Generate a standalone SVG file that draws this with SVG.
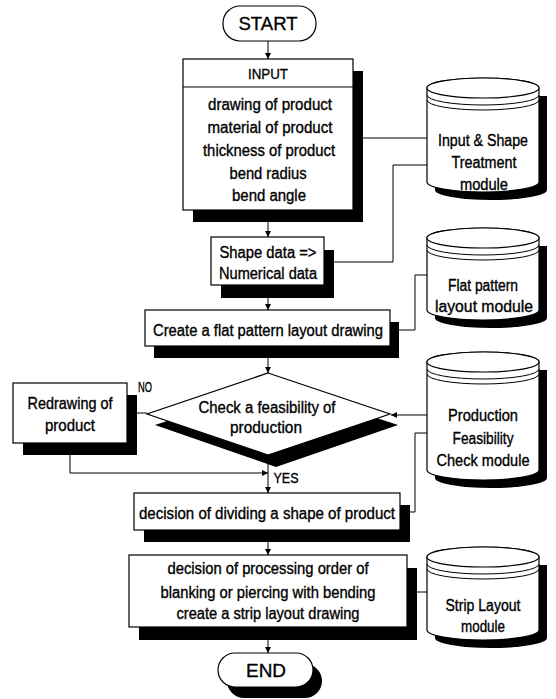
<svg xmlns="http://www.w3.org/2000/svg" width="556" height="699" viewBox="0 0 556 699">
<defs>
<marker id="ah" viewBox="0 0 10 10" refX="10" refY="5" markerWidth="7" markerHeight="6" orient="auto" markerUnits="userSpaceOnUse">
<path d="M0,0 L10,5 L0,10 Z" fill="#000"/>
</marker>
</defs>
<style>
.box{fill:#fff;stroke:#000;stroke-width:1.2}
.sh{fill:#000;stroke:none}
.ln{fill:none;stroke:#000;stroke-width:1}
.ar{fill:none;stroke:#000;stroke-width:1;marker-end:url(#ah)}
text{font-family:"Liberation Sans Narrow","Arial Narrow","Liberation Sans",Arial,sans-serif;font-size:16px;fill:#000;stroke:#000;stroke-width:0.35;text-anchor:middle}
.big{font-size:19px}
.sm{font-size:15px}
</style>
<rect width="556" height="699" fill="#fff"/>

<g id="connectors">
<path class="ar" d="M268,41 V59"/>
<path class="ar" d="M268,222 V237"/>
<path class="ar" d="M268,298 V310"/>
<path class="ar" d="M268,358 V373"/>
<path class="ar" d="M268,455 V493"/>
<path class="ar" d="M70,455 V473 H268"/>
<path class="ln" d="M147,413 H137"/>
<path class="ar" d="M268,542 V555"/>
<path class="ar" d="M268,640 V653"/>
<path class="ln" d="M363,138 H427"/>
<path class="ln" d="M334,262 H393 V165 H427"/>
<path class="ln" d="M399,330 H415 V275 H427"/>
<path class="ar" d="M427,415 H391"/>
<path class="ln" d="M410,512 H415 V433 H427"/>
<path class="ln" d="M417,592 H427"/>
</g>

<g id="start">
<rect class="box" x="223" y="6" width="93" height="35" rx="17"/>
<text class="big" x="268" y="30" textLength="59" lengthAdjust="spacingAndGlyphs">START</text>
</g>

<g id="input">
<rect class="sh" x="193" y="71" width="170" height="151"/>
<rect class="box" x="183" y="59" width="170" height="151"/>
<line class="ln" x1="183" y1="87" x2="353" y2="87"/>
<text class="sm" x="268" y="79" textLength="40" lengthAdjust="spacingAndGlyphs">INPUT</text>
<text x="270" y="110" textLength="124" lengthAdjust="spacingAndGlyphs">drawing of product</text>
<text x="270" y="133" textLength="125" lengthAdjust="spacingAndGlyphs">material of product</text>
<text x="269" y="156" textLength="132" lengthAdjust="spacingAndGlyphs">thickness of product</text>
<text x="268" y="179" textLength="77" lengthAdjust="spacingAndGlyphs">bend radius</text>
<text x="269" y="201" textLength="74" lengthAdjust="spacingAndGlyphs">bend angle</text>
</g>

<g id="shape">
<rect class="sh" x="221" y="250" width="113" height="48"/>
<rect class="box" x="211" y="237" width="113" height="48"/>
<text x="268" y="258" textLength="97" lengthAdjust="spacingAndGlyphs">Shape data =&gt;</text>
<text x="268" y="279" textLength="98" lengthAdjust="spacingAndGlyphs">Numerical data</text>
</g>

<g id="create">
<rect class="sh" x="154" y="322" width="245" height="36"/>
<rect class="box" x="145" y="310" width="245" height="36"/>
<text x="268" y="336" textLength="230" lengthAdjust="spacingAndGlyphs">Create a flat pattern layout drawing</text>
</g>

<g id="check">
<polygon class="sh" points="276,385 398,425 276,467 155,425"/>
<polygon class="box" points="268,373 390,414 268,455 147,414"/>
<text x="267" y="413" textLength="137" lengthAdjust="spacingAndGlyphs">Check a feasibility of</text>
<text x="266" y="433" textLength="72" lengthAdjust="spacingAndGlyphs">production</text>
<text class="sm" x="145" y="392" textLength="14" lengthAdjust="spacingAndGlyphs">NO</text>
<text class="sm" x="286" y="483" textLength="25" lengthAdjust="spacingAndGlyphs">YES</text>
</g>

<g id="redraw">
<rect class="sh" x="23" y="395" width="114" height="60"/>
<rect class="box" x="13" y="383" width="114" height="60"/>
<text x="70" y="409" textLength="85" lengthAdjust="spacingAndGlyphs">Redrawing of</text>
<text x="70" y="431" textLength="50" lengthAdjust="spacingAndGlyphs">product</text>
</g>

<g id="divide">
<rect class="sh" x="144" y="505" width="266" height="37"/>
<rect class="box" x="134" y="493" width="266" height="37"/>
<text x="267" y="519" textLength="256" lengthAdjust="spacingAndGlyphs">decision of dividing a shape of product</text>
</g>

<g id="process">
<rect class="sh" x="139" y="568" width="278" height="72"/>
<rect class="box" x="129" y="555" width="278" height="72"/>
<text x="268" y="574" textLength="201" lengthAdjust="spacingAndGlyphs">decision of processing order of</text>
<text x="268" y="598" textLength="215" lengthAdjust="spacingAndGlyphs">blanking or piercing with bending</text>
<text x="268" y="619" textLength="183" lengthAdjust="spacingAndGlyphs">create a strip layout drawing</text>
</g>

<g id="end">
<rect class="sh" x="227" y="664" width="95" height="34" rx="17"/>
<rect class="box" x="218" y="653" width="95" height="34" rx="17"/>
<text class="big" x="266" y="677" textLength="40" lengthAdjust="spacingAndGlyphs">END</text>
</g>

<g id="cyl-input">
<path class="sh" d="M435,96 V190 A56,10 0 0 0 547,190 V96 Z"/>
<path class="box" d="M427,88 V182 A56,10 0 0 0 539,182 V88 A56,10 0 0 0 427,88 Z"/>
<ellipse class="box" cx="483" cy="88" rx="56" ry="10"/>
<path class="ln" d="M427,95 A56,10 0 0 0 539,95 M427,100 A56,10 0 0 0 539,100"/>
<text x="483" y="146" textLength="90" lengthAdjust="spacingAndGlyphs">Input &amp; Shape</text>
<text x="484" y="168" textLength="65" lengthAdjust="spacingAndGlyphs">Treatment</text>
<text x="484" y="190" textLength="48" lengthAdjust="spacingAndGlyphs">module</text>
</g>

<g id="cyl-flat">
<path class="sh" d="M435,246 V318 A56,10 0 0 0 547,318 V246 Z"/>
<path class="box" d="M427,238 V310 A56,10 0 0 0 539,310 V238 A56,10 0 0 0 427,238 Z"/>
<ellipse class="box" cx="483" cy="238" rx="56" ry="10"/>
<path class="ln" d="M427,245 A56,10 0 0 0 539,245 M427,250 A56,10 0 0 0 539,250"/>
<text x="483" y="291" textLength="70" lengthAdjust="spacingAndGlyphs">Flat pattern</text>
<text x="484" y="312" textLength="98" lengthAdjust="spacingAndGlyphs">layout module</text>
</g>

<g id="cyl-prod">
<path class="sh" d="M435,370 V478 A56,10 0 0 0 547,478 V370 Z"/>
<path class="box" d="M427,362 V470 A56,10 0 0 0 539,470 V362 A56,10 0 0 0 427,362 Z"/>
<ellipse class="box" cx="483" cy="362" rx="56" ry="10"/>
<path class="ln" d="M427,369 A56,10 0 0 0 539,369 M427,374 A56,10 0 0 0 539,374"/>
<text x="483" y="421" textLength="70" lengthAdjust="spacingAndGlyphs">Production</text>
<text x="483" y="444" textLength="61" lengthAdjust="spacingAndGlyphs">Feasibility</text>
<text x="483" y="466" textLength="93" lengthAdjust="spacingAndGlyphs">Check module</text>
</g>

<g id="cyl-strip">
<path class="sh" d="M435,565 V638 A56,10 0 0 0 547,638 V565 Z"/>
<path class="box" d="M427,557 V630 A56,10 0 0 0 539,630 V557 A56,10 0 0 0 427,557 Z"/>
<ellipse class="box" cx="483" cy="557" rx="56" ry="10"/>
<path class="ln" d="M427,564 A56,10 0 0 0 539,564 M427,569 A56,10 0 0 0 539,569"/>
<text x="483" y="611" textLength="75" lengthAdjust="spacingAndGlyphs">Strip Layout</text>
<text x="483" y="632" textLength="44" lengthAdjust="spacingAndGlyphs">module</text>
</g>
</svg>
